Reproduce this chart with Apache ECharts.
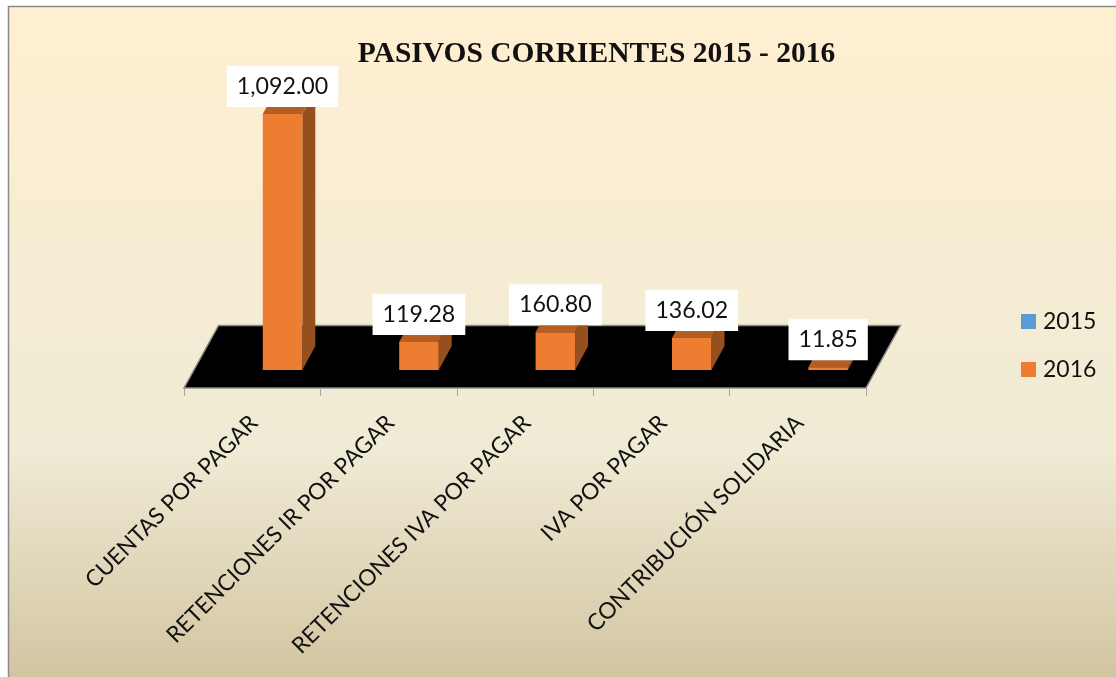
<!DOCTYPE html>
<html>
<head>
<meta charset="utf-8">
<style>html,body{margin:0;padding:0;background:#fff}#c{width:1116px;height:677px}</style>
<script src="https://cdn.jsdelivr.net/npm/echarts@6/dist/echarts.min.js"></script>
</head>
<body>
<div id="c"></div>
<script>
const categories = ['CUENTAS POR PAGAR','RETENCIONES IR POR PAGAR','RETENCIONES IVA POR PAGAR','IVA POR PAGAR','CONTRIBUCIÓN SOLIDARIA'];
const values2015 = [null,null,null,null,null];
const values2016 = [1092.00,119.28,160.80,136.02,11.85];
const titleText = 'PASIVOS CORRIENTES 2015 - 2016';

const fmt = v => v.toLocaleString('en-US',{minimumFractionDigits:2,maximumFractionDigits:2});
const BAR_W = 39.5, DX = 13, DY = 24, SHIFT = 10.6;

function floorItem(params, api){
  const g = params.coordSys;
  const b = g.y + g.height;
  return {type:'polygon', shape:{points:[[g.x,b],[g.x+g.width,b],[g.x+g.width+34.5,b-62.5],[g.x+34.5,b-62.5]]},
    style:{fill:'#000',stroke:'#8c8c8c',lineWidth:1.5}};
}
function barRenderer(slot, front, top, side){
  return function(params, api){
    const v = api.value(1);
    if (v == null || isNaN(v)) return;
    const i = api.value(0);
    const base = api.coord([i,0]);
    const tip = api.coord([i,v]);
    const x0 = base[0] + SHIFT + slot*BAR_W, x1 = x0 + BAR_W, yb = base[1], yt = tip[1];
    return {type:'group', children:[
      {type:'polygon', shape:{points:[[x1,yb],[x1+DX,yb-DY],[x1+DX,yt-DY],[x1,yt]]}, style:{fill:side}},
      {type:'polygon', shape:{points:[[x0,yt],[x1,yt],[x1+DX,yt-DY],[x0+DX,yt-DY]]}, style:{fill:top}},
      {type:'rect', shape:{x:x0,y:yt,width:BAR_W,height:yb-yt}, style:{fill:front}},
      {type:'text', z2:100, x:(x0+x1)/2, y:yt-7, style:{text:fmt(v), fill:'#111', font:'23.2px Lato', align:'center', verticalAlign:'bottom',
        backgroundColor:'#fff', padding:[9,10,9,10]}}
    ]};
  };
}
const chart = echarts.init(document.getElementById('c'),null,{renderer:'canvas'});
chart.setOption({
  animation:false,
  graphic:[{type:'rect', z:-10, silent:true, shape:{x:8.5,y:6.5,width:1120,height:680},
    style:{stroke:'#8a8a8a',lineWidth:1.5,
      fill:new echarts.graphic.LinearGradient(0,0,0,1,[{offset:0,color:'#FFEFD1'},{offset:0.65,color:'#F0EBD5'},{offset:1,color:'#D1C39F'}])}}],
  title:{text:titleText,left:591.5,top:34,textAlign:'center',textStyle:{fontFamily:'"Liberation Serif"',fontWeight:'bold',fontSize:29.5,color:'#111'}},
  legend:{orient:'vertical',left:1021,top:310,padding:0,itemWidth:15,itemHeight:15,itemGap:25,
    data:[{name:'2015',icon:'rect'},{name:'2016',icon:'rect'}],
    textStyle:{fontFamily:'Lato',fontSize:23,color:'#111',padding:[0,0,0,2]}},
  grid:{left:184,right:250,top:88.75,bottom:289},
  xAxis:{type:'category',data:categories,z:5,
    axisLine:{show:true,onZero:false,lineStyle:{color:'#a6a6a6'}},
    axisTick:{show:true,length:8,lineStyle:{color:'#a6a6a6'}},
    axisLabel:{interval:0,rotate:45,margin:33,padding:[0,-2.5,0,0],fontFamily:'Lato',fontSize:22.7,color:'#111'}},
  yAxis:{type:'value',min:-76.8,max:1200,show:false},
  tooltip:{show:false},
  series:[
    {type:'custom',name:'floor',silent:true,clip:false,z:1,data:[[0,0]],renderItem:floorItem},
    {type:'custom',name:'2015',clip:false,z:2,itemStyle:{color:'#5B9BD5'},
      data:values2015.map((v,i)=>[i,v]),renderItem:barRenderer(-1,'#5B9BD5','#44749F','#3A6488')},
    {type:'custom',name:'2016',clip:false,z:3,itemStyle:{color:'#ED7D31'},
      data:values2016.map((v,i)=>[i,v]),renderItem:barRenderer(0,'#ED7D31','#B55E24','#96501E')}
  ]
});
</script>
</body>
</html>
